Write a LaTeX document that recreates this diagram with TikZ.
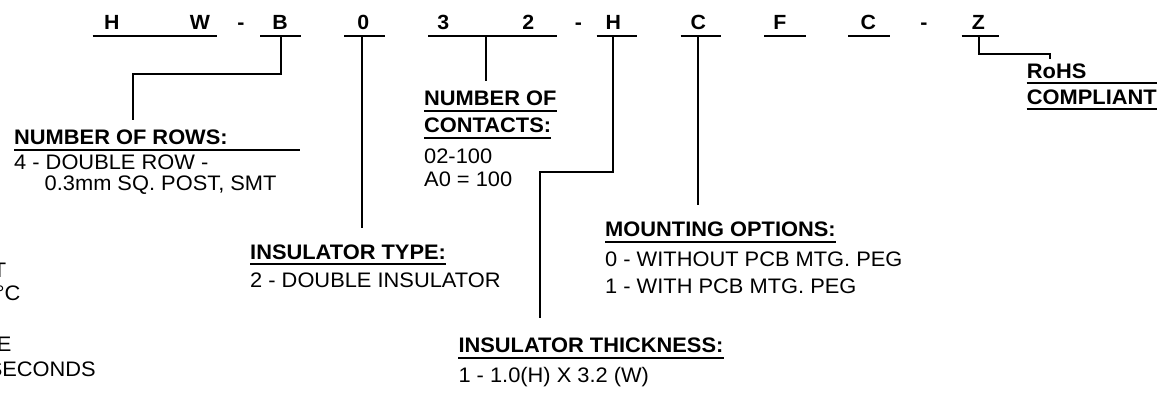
\documentclass[tikz,border=0pt]{standalone}
\usepackage{fontspec}
\setmainfont{Liberation Sans}[FakeStretch=1.04]
\begin{document}
\begin{tikzpicture}[x=1pt,y=-1pt,
  code/.style={font=\fontsize{20.5}{20.5}\selectfont\bfseries, inner sep=0pt, anchor=base},
  head/.style={font=\fontsize{21}{21}\selectfont\bfseries, inner sep=0pt, anchor=base west},
  body/.style={font=\fontsize{21}{21}\selectfont, inner sep=0pt, anchor=base west},
  frag/.style={font=\fontsize{21}{21}\selectfont, inner sep=0pt, anchor=base east},
  rule/.style={line width=2pt},
  lead/.style={line width=2.2pt}]
\useasboundingbox (0,0) rectangle (1162,393);
\clip (0,0) rectangle (1162,393);
% part-number characters
\node[code] (cH)  at (111.7,29.5) {H};
\node[code] (cW)  at (200,29.5) {W};
\node[code] (d1)  at (241,29.5) {-};
\node[code] (cB)  at (280,29.5) {B};
\node[code] (c0)  at (363.3,29.5) {0};
\node[code] (c3)  at (443.3,29.5) {3};
\node[code] (c2)  at (528.3,29.5) {2};
\node[code] (d2)  at (578.3,29.5) {-};
\node[code] (cH2) at (613.3,29.5) {H};
\node[code] (cC)  at (698.3,29.5) {C};
\node[code] (cF)  at (780,29.5) {F};
\node[code] (cC2) at (868.3,29.5) {C};
\node[code] (d3)  at (924,29.5) {-};
\node[code] (cZ)  at (978.3,29.5) {Z};
% segment underlines
\draw[rule] (92.7,36) -- (217.3,36);
\draw[rule] (260,36) -- (301,36);
\draw[rule] (344.3,36) -- (385,36);
\draw[rule] (428.3,36) -- (556.7,36);
\draw[rule] (596.7,36) -- (637.3,36);
\draw[rule] (680.7,36) -- (720.7,36);
\draw[rule] (764.3,36) -- (805.7,36);
\draw[rule] (848.3,36) -- (890,36);
\draw[rule] (961.7,36) -- (999.3,36);
\coordinate (sB)  at (280.7,36);
\coordinate (s0)  at (361.7,36);
\coordinate (s32) at (486,36);
\coordinate (sH)  at (612.7,36);
\coordinate (sC)  at (698.3,36);
\coordinate (sZ)  at (979.3,36);
% labels
\node[head] (rows) at (14,144.3) {NUMBER OF ROWS:};
\draw[rule] ([yshift=-5.5pt]rows.base west) -- ++(286,0);
\node[body] (rows1) at (14,169) {4 - DOUBLE ROW -};
\node[body] (rows2) at (44.5,190.7) {0.3mm SQ. POST, SMT};

\node[head] (cont1) at (424,106) {NUMBER OF};
\draw[rule] ([yshift=-5pt]cont1.base west) -- ([yshift=-5pt]cont1.base east);
\node[head] (cont2) at (424,132.7) {CONTACTS:};
\draw[rule] ([yshift=-5pt]cont2.base west) -- ([yshift=-5pt]cont2.base east);
\node[body] (cont3) at (424,163.3) {02-100};
\node[body] (cont4) at (424,186.7) {A0 = 100};

\node[head] (ityp) at (250,259.3) {INSULATOR TYPE:};
\draw[rule] ([yshift=-5pt]ityp.base west) -- ([yshift=-5pt]ityp.base east);
\node[body] (ityp1) at (250,287.3) {2 - DOUBLE INSULATOR};

\node[head] (mount) at (605,236.7) {MOUNTING OPTIONS:};
\draw[rule] ([yshift=-5pt]mount.base west) -- ([yshift=-5pt]mount.base east);
\node[body] (mount1) at (605,266.7) {0 - WITHOUT PCB MTG. PEG};
\node[body] (mount2) at (605,293.3) {1 - WITH PCB MTG. PEG};

\node[head] (thk) at (458.3,352.7) {INSULATOR THICKNESS:};
\draw[rule] ([yshift=-5pt]thk.base west) -- ([yshift=-5pt]thk.base east);
\node[body] (thk1) at (458.3,382.7) {1 - 1.0(H) X 3.2 (W)};

\node[head] (rohs) at (1026.7,78.3) {RoHS};
\draw[rule] ([yshift=-4.5pt]rohs.base west) -- ++(130.6,0);
\node[head] (comp) at (1026.7,104.3) {COMPLIANT};
\draw[rule] ([yshift=-4.5pt]comp.base west) -- ++(130.6,0);

% fragments at the left edge (cut off in the reference)
\node[frag] (f1) at (6.5,277) {T};
\node[frag] (f2) at (20.7,300) {°C};
\node[frag] (f3) at (11.7,351) {E};
\node[frag] (f4) at (96,376) {SECONDS};

% leaders
\coordinate (tRows) at (132.7,120);
\coordinate (t0) at (361.7,228);
\coordinate (t32) at (486,81);
\coordinate (tH) at (540,318.3);
\coordinate (tC) at (698.3,205);
\coordinate (tZ) at (1050,59.3);
\draw[lead] (sB) -- (280.7,74.3) -| (tRows);
\draw[lead] (s0) -- (t0);
\draw[lead] (s32) -- (t32);
\draw[lead] (sH) -- (612.7,172.3) -| (tH);
\draw[lead] (sC) -- (tC);
\draw[lead] (sZ) -- (979.3,54.3) -| (tZ);
\end{tikzpicture}
\end{document}
